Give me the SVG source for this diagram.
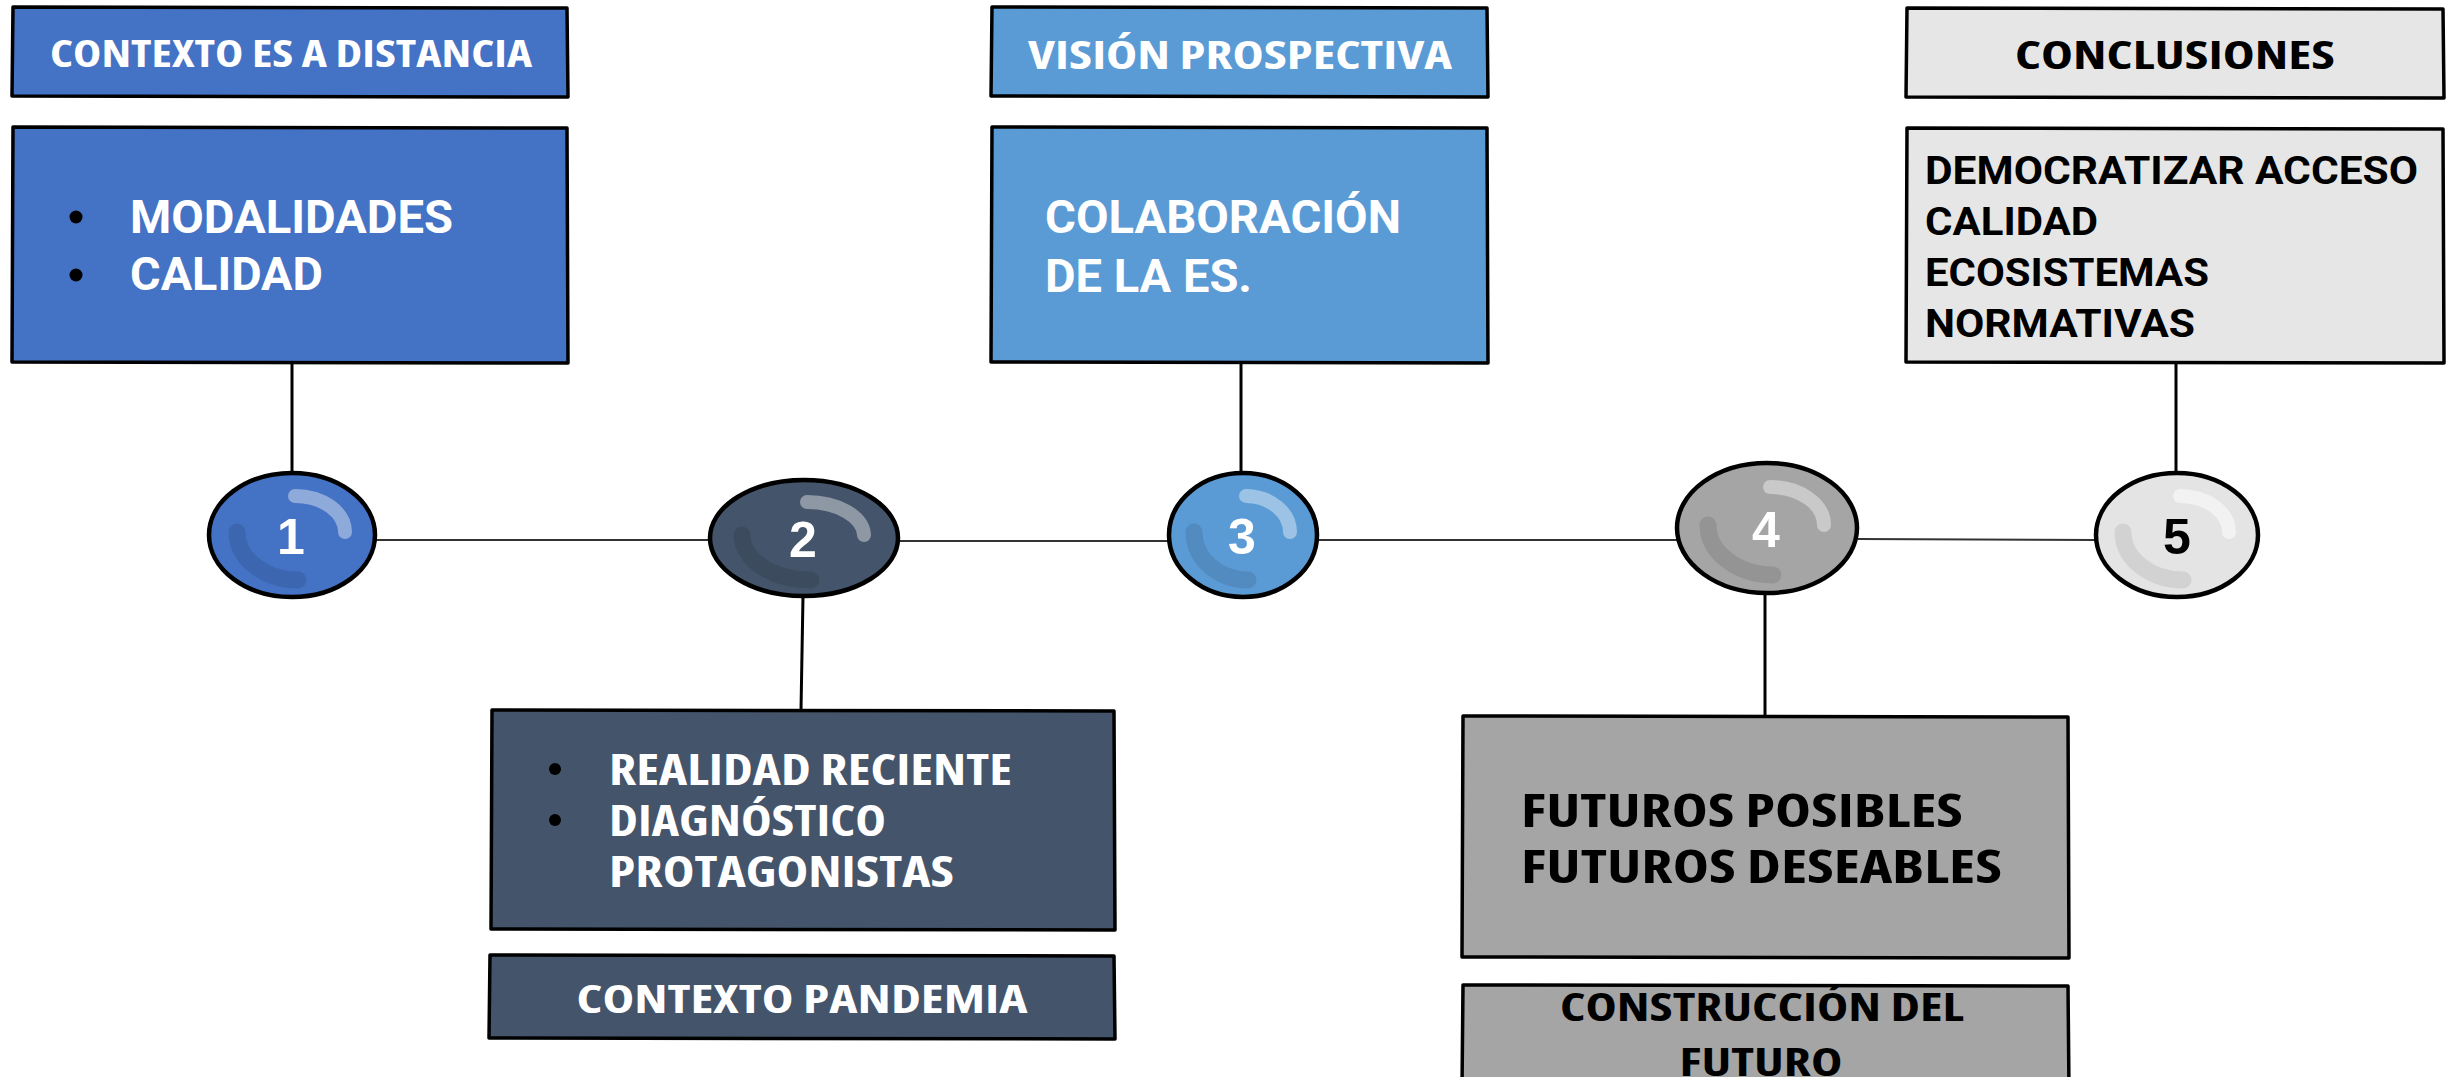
<svg xmlns="http://www.w3.org/2000/svg" width="2451" height="1077" viewBox="0 0 2451 1077">
<style>
.box{stroke:#000;stroke-width:3.5;stroke-linejoin:round}
.c1{fill:#4472C4}.c2{fill:#44546A}.c3{fill:#5B9BD5}.c4{fill:#A5A5A5}.c5{fill:#E7E6E6}
.hd{font-family:"Open Sans","Liberation Sans",sans-serif;font-weight:700;font-stretch:condensed;text-anchor:middle}
.rb{font-family:Roboto,"Liberation Sans",sans-serif;font-weight:700}
.os{font-family:"Open Sans","Liberation Sans",sans-serif;font-weight:700;font-stretch:condensed}
.w{fill:#fff}.k{fill:#000}
.ball{stroke:#000;stroke-width:4.5}
.hi{fill:none;stroke:#fff;stroke-opacity:0.4;stroke-width:14;stroke-linecap:round}
.lo{fill:none;stroke:#000;stroke-opacity:0.1;stroke-width:17;stroke-linecap:round}
.num{font-family:"Liberation Sans",Arial,sans-serif;font-weight:700;font-size:50px;text-anchor:middle}
.con{stroke:#000;stroke-width:3;fill:none}
.hz{stroke:#333;stroke-width:2.2;fill:none}
</style>

<g id="connectors">
<line class="con" x1="292" y1="363" x2="292" y2="473"/>
<line class="con" x1="1241" y1="363" x2="1241" y2="473"/>
<line class="con" x1="2176" y1="363" x2="2176" y2="473"/>
<line class="con" x1="803" y1="596" x2="801" y2="710"/>
<line class="con" x1="1765" y1="593" x2="1765" y2="716"/>
<line class="hz" x1="375" y1="540" x2="710" y2="540"/>
<line class="hz" x1="898" y1="541" x2="1169" y2="541"/>
<line class="hz" x1="1317" y1="540" x2="1677" y2="540"/>
<line class="hz" x1="1858" y1="539" x2="2096" y2="540"/>
</g>

<g id="header1">
<path class="box c1" d="M13,7 L567,8 L568,97 L12,96 Z"/>
<text class="hd w" x="291" y="67" font-size="37" textLength="482" lengthAdjust="spacingAndGlyphs">CONTEXTO ES A DISTANCIA</text>
</g>
<g id="box1">
<path class="box c1" d="M13,127 L567,128 L568,363 L12,362 Z"/>
<circle cx="76" cy="217" r="6.5" fill="#000"/>
<circle cx="76" cy="275" r="6.5" fill="#000"/>
<text class="rb w" x="130" y="233" font-size="46" textLength="323" lengthAdjust="spacingAndGlyphs">MODALIDADES</text>
<text class="rb w" x="130" y="290" font-size="46" textLength="193" lengthAdjust="spacingAndGlyphs">CALIDAD</text>
</g>

<g id="header3">
<path class="box c3" d="M992,7 L1487,8 L1488,97 L991,96 Z"/>
<text class="hd w" x="1240" y="69" font-size="39" textLength="424" lengthAdjust="spacingAndGlyphs">VISIÓN PROSPECTIVA</text>
</g>
<g id="box3">
<path class="box c3" d="M992,127 L1487,128 L1488,363 L991,362 Z"/>
<text class="rb w" x="1045" y="233" font-size="46" textLength="356" lengthAdjust="spacingAndGlyphs">COLABORACIÓN</text>
<text class="rb w" x="1045" y="292" font-size="46" textLength="207" lengthAdjust="spacingAndGlyphs">DE LA ES.</text>
</g>

<g id="header5">
<path class="box c5" d="M1907,8 L2443,9 L2444,98 L1906,97 Z"/>
<text class="hd k" x="2175" y="69" font-size="39" textLength="320" lengthAdjust="spacingAndGlyphs">CONCLUSIONES</text>
</g>
<g id="box5">
<path class="box c5" d="M1907,128 L2443,129 L2444,363 L1906,362 Z"/>
<text class="rb k" x="1925" y="184" font-size="39" textLength="493" lengthAdjust="spacingAndGlyphs">DEMOCRATIZAR ACCESO</text>
<text class="rb k" x="1925" y="235" font-size="39" textLength="173" lengthAdjust="spacingAndGlyphs">CALIDAD</text>
<text class="rb k" x="1925" y="286" font-size="39" textLength="284" lengthAdjust="spacingAndGlyphs">ECOSISTEMAS</text>
<text class="rb k" x="1925" y="337" font-size="39" textLength="270" lengthAdjust="spacingAndGlyphs">NORMATIVAS</text>
</g>

<g id="box2">
<path class="box c2" d="M492,710 L1114,711 L1115,930 L491,929 Z"/>
<circle cx="555" cy="769" r="6" fill="#000"/>
<circle cx="555" cy="820" r="6" fill="#000"/>
<text class="os w" x="609" y="785" font-size="42" textLength="403" lengthAdjust="spacingAndGlyphs">REALIDAD RECIENTE</text>
<text class="os w" x="609" y="836" font-size="42" textLength="277" lengthAdjust="spacingAndGlyphs">DIAGNÓSTICO</text>
<text class="os w" x="609" y="887" font-size="42" textLength="345" lengthAdjust="spacingAndGlyphs">PROTAGONISTAS</text>
</g>
<g id="header2">
<path class="box c2" d="M490,955 L1114,956 L1115,1039 L489,1038 Z"/>
<text class="hd w" x="802" y="1013" font-size="40" textLength="451" lengthAdjust="spacingAndGlyphs">CONTEXTO PANDEMIA</text>
</g>

<g id="box4">
<path class="box c4" d="M1463,716 L2068,717 L2069,958 L1462,957 Z"/>
<text class="os k" x="1521" y="827" font-size="47" textLength="442" lengthAdjust="spacingAndGlyphs">FUTUROS POSIBLES</text>
<text class="os k" x="1521" y="883" font-size="47" textLength="481" lengthAdjust="spacingAndGlyphs">FUTUROS DESEABLES</text>
</g>
<g id="header4">
<path class="box c4" d="M1463,985 L2068,986 L2069,1090 L1462,1090 Z"/>
<text class="hd k" x="1762" y="1021" font-size="39" textLength="404" lengthAdjust="spacingAndGlyphs">CONSTRUCCIÓN DEL</text>
<text class="hd k" x="1761" y="1076" font-size="39" textLength="163" lengthAdjust="spacingAndGlyphs">FUTURO</text>
</g>

<g id="ball1">
<ellipse class="ball c1" cx="292" cy="535" rx="83" ry="62"/>
<path class="hi" d="M295,496 A50,36 0 0 1 345,532"/>
<path class="lo" d="M237,532 A61,48 0 0 0 298,580"/>
<text class="num w" x="291" y="554">1</text>
</g>
<g id="ball2">
<ellipse class="ball c2" cx="804" cy="538" rx="94" ry="58"/>
<path class="hi" d="M807,502 A57,34 0 0 1 864,535"/>
<path class="lo" d="M742,535 A69,45 0 0 0 811,580"/>
<text class="num w" x="803" y="557">2</text>
</g>
<g id="ball3">
<ellipse class="ball c3" cx="1243" cy="535" rx="74" ry="62"/>
<path class="hi" d="M1246,496 A45,36 0 0 1 1290,532"/>
<path class="lo" d="M1194,532 A54,48 0 0 0 1248,580"/>
<text class="num w" x="1242" y="554">3</text>
</g>
<g id="ball4">
<ellipse class="ball c4" cx="1767" cy="528" rx="90" ry="65"/>
<path class="hi" d="M1770,487 A54,38 0 0 1 1824,525"/>
<path class="lo" d="M1708,525 A66,50 0 0 0 1773,575"/>
<text class="num w" x="1766" y="547">4</text>
</g>
<g id="ball5">
<ellipse class="ball" fill="#E4E4E4" cx="2177" cy="535" rx="81" ry="62"/>
<path class="hi" style="stroke-opacity:0.5" d="M2180,496 A49,36 0 0 1 2229,532"/>
<path class="lo" style="stroke-opacity:0.08" d="M2123,532 A60,48 0 0 0 2183,580"/>
<text class="num k" x="2177" y="554">5</text>
</g>
</svg>
